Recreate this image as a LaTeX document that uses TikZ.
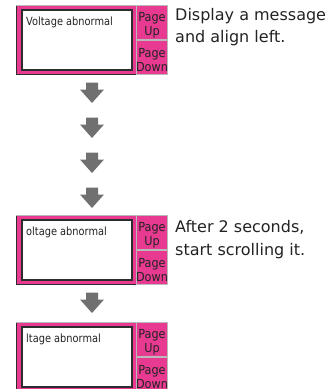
\documentclass[tikz,border=0pt]{standalone}
\usepackage{fontspec}
\setmainfont{DejaVu Sans}
\definecolor{pnk}{RGB}{232,58,145}
\definecolor{darkb}{RGB}{45,45,45}
\definecolor{lgray}{RGB}{185,185,185}
\definecolor{arrowc}{RGB}{112,112,112}
\definecolor{txt}{RGB}{35,35,35}
\tikzset{
 outerbox/.style={draw=darkb, line width=0.8pt, fill=pnk, anchor=north west, minimum width=120pt, minimum height=69pt, inner sep=0pt, outer sep=0pt},
 innerbox/.style={draw=darkb, line width=1.6pt, fill=white, anchor=north west, minimum width=110pt, minimum height=60pt, inner sep=0pt, outer sep=0pt},
 btn/.style={draw=lgray, line width=0.8pt, fill=pnk, anchor=north west, minimum width=31pt, minimum height=34pt, inner sep=0pt, outer sep=0pt},
 msg/.style={font=\fontsize{11.3}{13}\selectfont, text=txt, anchor=base west, inner sep=0pt, xscale=0.87},
 btxt/.style={font=\fontsize{12.5}{14}\selectfont, text=txt, anchor=base, inner sep=0pt, xscale=0.9},
 note/.style={font=\fontsize{16}{20}\selectfont, text=txt, anchor=base west, inner sep=0pt},
 darr/.style={fill=arrowc},
}
\newcommand\mkpanel[3]{%
 \node[outerbox] (o#1) at (16,-#2) {};
 \draw[lgray, line width=0.8pt] (o#1.north west) -- (o#1.north east);
 \node[innerbox] (i#1) at (22,-#2-5) {};
 \node[msg] (m#1) at (26,-#2-20) {#3};
 \node[btn] (u#1) at (136,-#2) {};
 \node[btn] (d#1) at (136,-#2-35) {};
 \begin{scope}
  \clip (u#1.north west) rectangle (d#1.south east);
  \node[btxt] (ua#1) at (152,-#2-16) {Page};
  \node[btxt] (ub#1) at (152,-#2-30.8) {Up};
  \node[btxt] (da#1) at (152,-#2-52) {Page};
  \node[btxt] (db#1) at (152,-#2-66) {Down};
 \end{scope}
}
\newcommand\mkarrow[2]{%
 \coordinate (#1) at (92,-#2);
 \fill[darr] (#1) ++(-6,0) -- ++(12,0) -- ++(0,-7) -- ++(6,0) -- ++(-12,-13.5) -- ++(-12,13.5) -- ++(6,0) -- cycle;
}
\begin{document}
\begin{tikzpicture}[x=1pt,y=1pt]
\path[use as bounding box] (0,0) rectangle (332,-389);
\clip (0,0) rectangle (332,-389);
\mkpanel{1}{5}{Voltage abnormal}
\mkpanel{2}{215}{oltage abnormal}
\mkpanel{3}{322}{ltage abnormal}
\mkarrow{a1}{82.5}
\mkarrow{a2}{117.5}
\mkarrow{a3}{152.5}
\mkarrow{a4}{187.5}
\mkarrow{a5}{292.5}
\node[note] (n1) at (175,-20) {Display a message};
\node[note] (n2) at (175,-42.7) {and align left.};
\node[note] (n3) at (175,-232) {After 2 seconds,};
\node[note] (n4) at (175,-255) {start scrolling it.};
\end{tikzpicture}
\end{document}
